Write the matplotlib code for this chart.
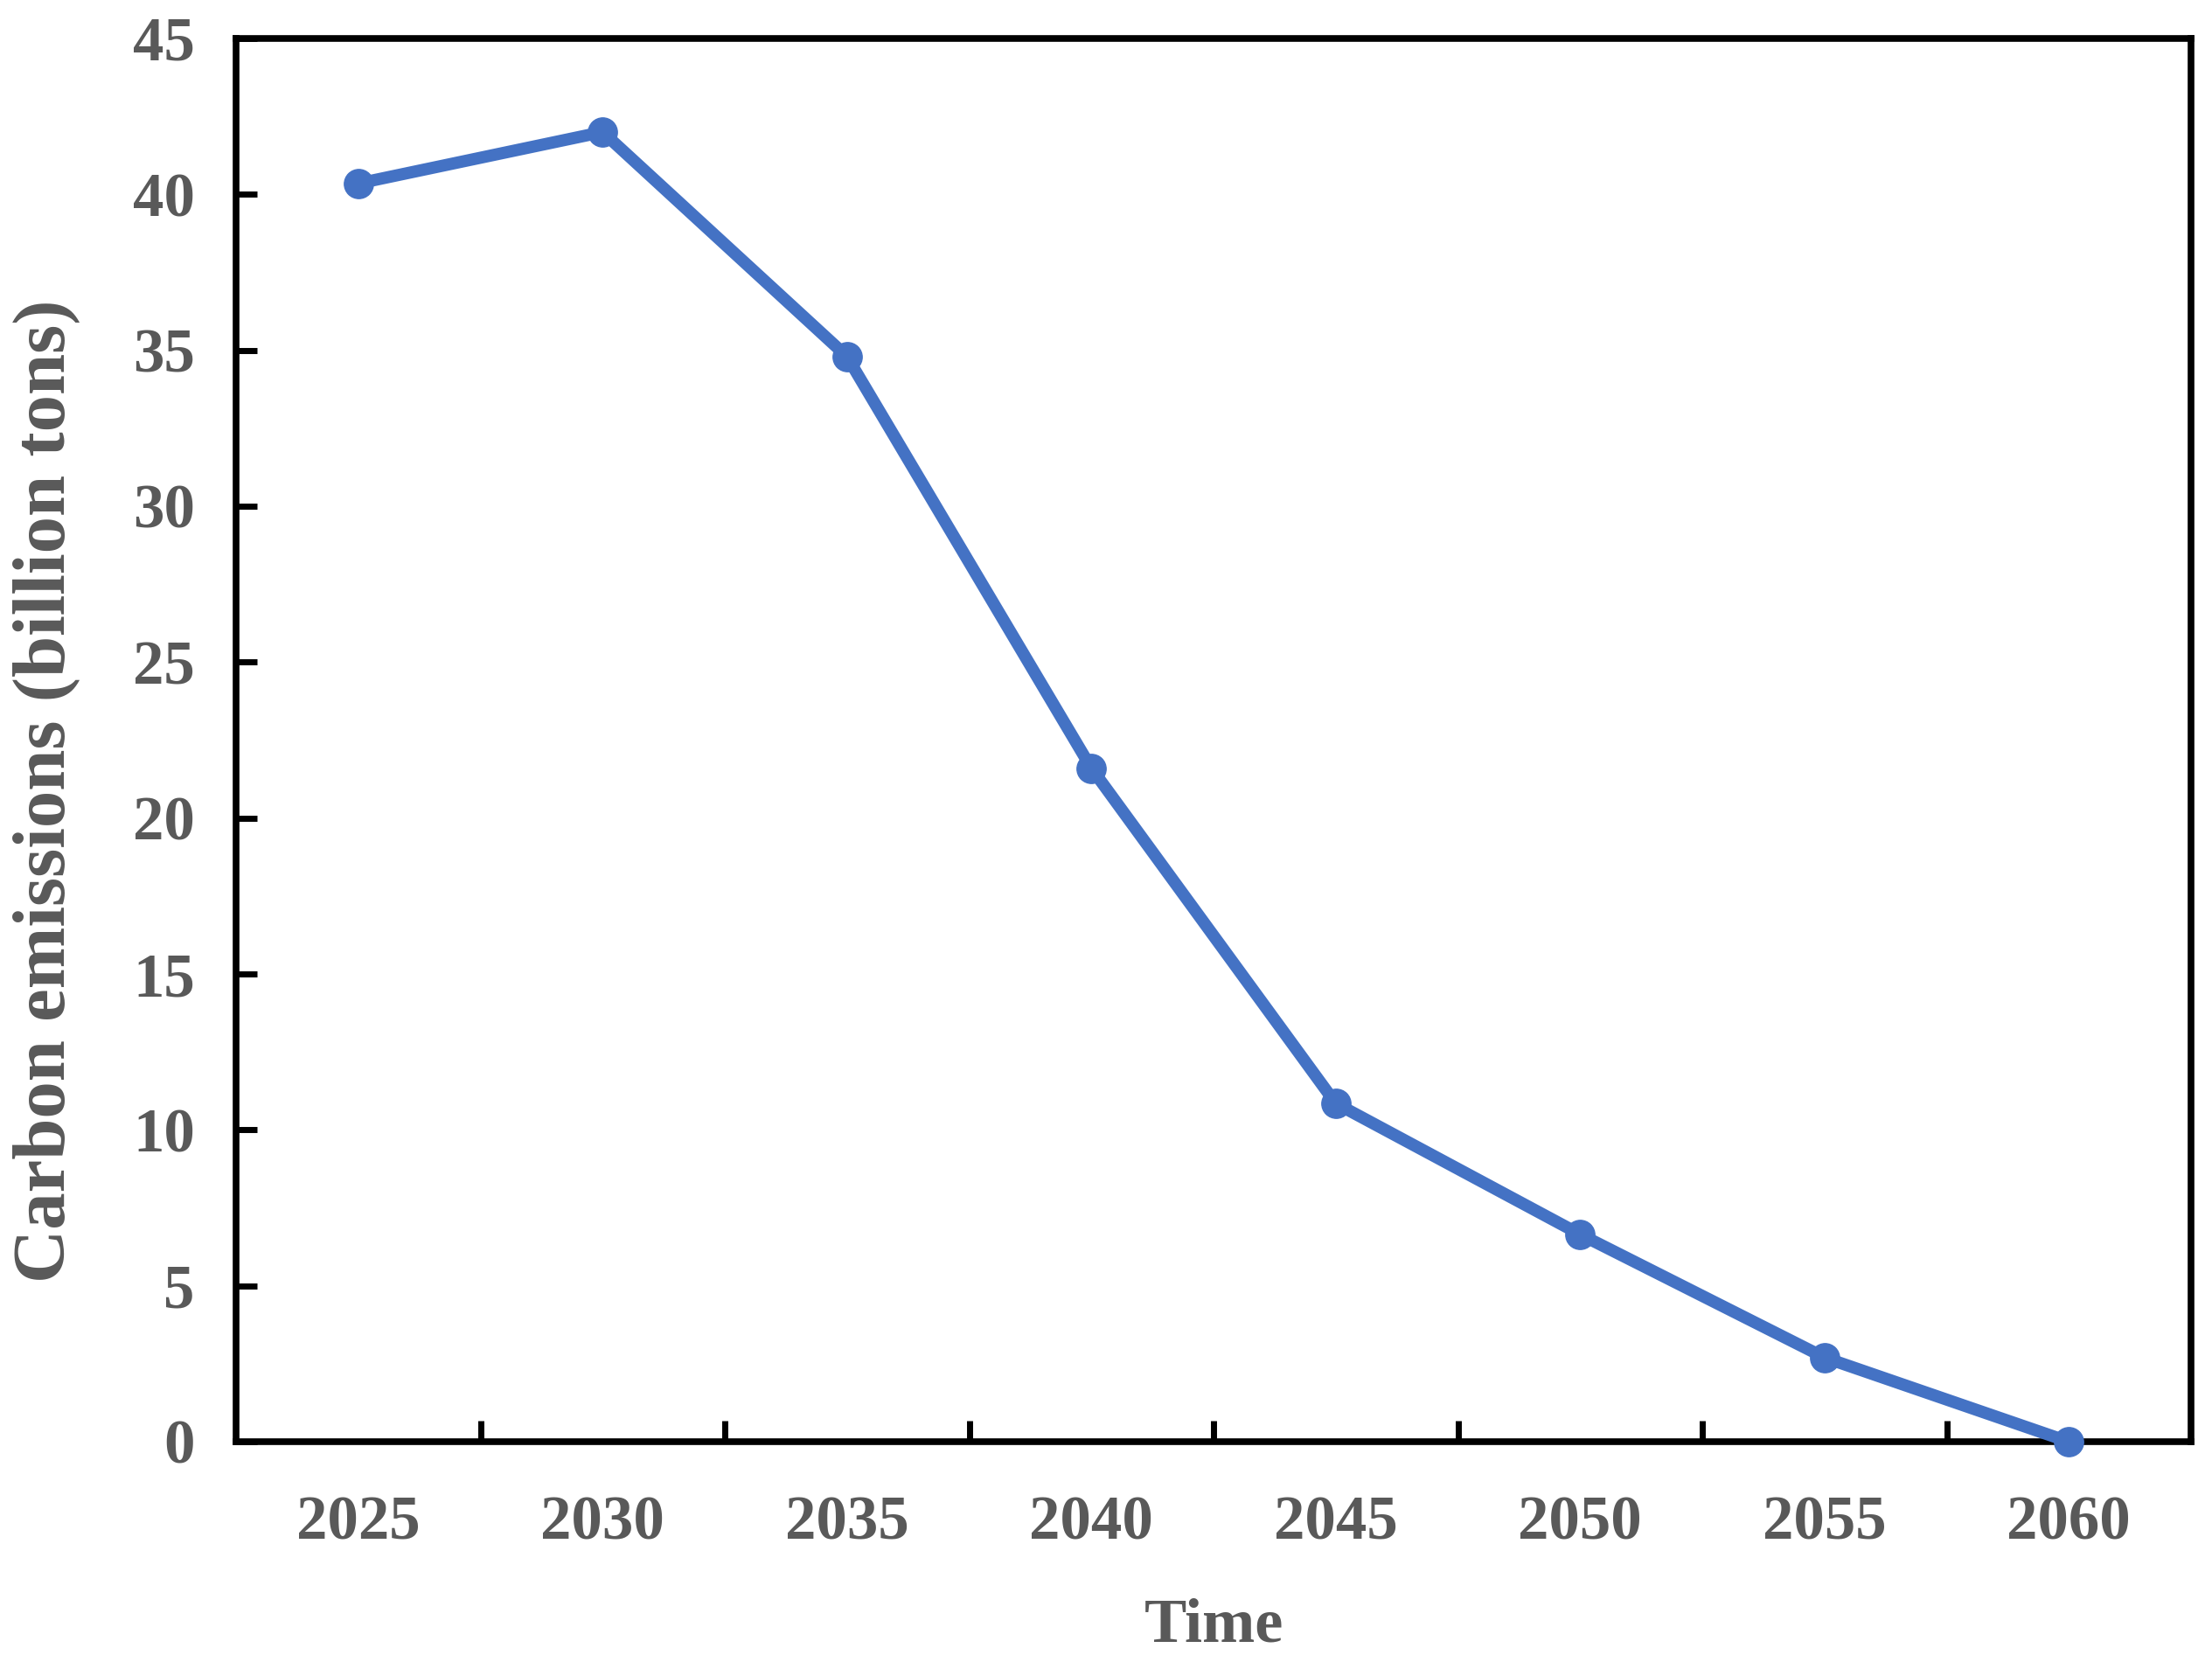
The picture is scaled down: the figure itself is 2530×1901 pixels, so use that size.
import numpy as np
import matplotlib.pyplot as plt

# data
years = ["2025", "2030", "2035", "2040", "2045", "2050", "2055", "2060"]
emissions = [40.35, 42.0, 34.8, 21.6, 10.85, 6.65, 2.7, 0.0]
y_ticks = [0, 5, 10, 15, 20, 25, 30, 35, 40, 45]

text_color = "#595959"
line_color = "#4472C4"

plt.rcParams['font.family'] = ['Liberation Serif', 'DejaVu Serif']
plt.rcParams['font.weight'] = 'bold'

fig = plt.figure(figsize=(25.3, 19.01), dpi=100)
ax = fig.add_axes([270 / 2530, 1 - 1649 / 1901, (2506 - 270) / 2530, (1649 - 44) / 1901])

x = np.arange(len(years))
ax.plot(x, emissions, color=line_color, linewidth=10, marker='o', markersize=24,
        clip_on=False, zorder=5)

ax.set_xlim(-0.5, len(years) - 0.5)
ax.set_ylim(0, 45)

# category labels centred, tick marks between categories
ax.set_xticks(x)
ax.set_xticklabels(years)
ax.set_xticks(np.arange(0.5, len(years) - 1, 1.0), minor=True)
ax.tick_params(axis='x', which='major', length=0, pad=44, labelsize=51, labelcolor=text_color)
ax.tick_params(axis='x', which='minor', direction='in', length=17, width=5, color='black')

ax.set_yticks(y_ticks)
ax.tick_params(axis='y', which='major', direction='in', length=17, width=5, color='black',
               pad=34, labelsize=51, labelcolor=text_color)

for side in ['left', 'right', 'top', 'bottom']:
    ax.spines[side].set_linewidth(5.5)
    ax.spines[side].set_color('black')

ax.set_xlabel("Time", fontsize=52, fontweight='bold', color=text_color, labelpad=38)
ax.set_ylabel("Carbon emissions (billion tons)", fontsize=61, fontweight='bold',
              color=text_color)
# the label sits a little below the middle of the axis in the original
ax.yaxis.set_label_coords(-0.0796, 0.464)

fig.savefig("out.png", dpi=100)
